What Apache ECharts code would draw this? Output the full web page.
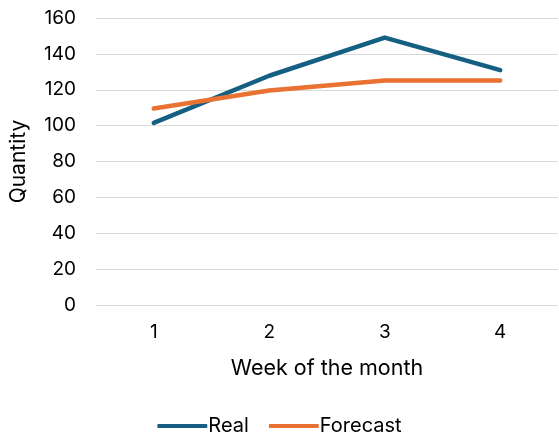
<!DOCTYPE html>
<html><head><meta charset="utf-8">
<script src="https://cdn.jsdelivr.net/npm/echarts@6/dist/echarts.min.js"></script>
<style>html,body{margin:0;padding:0;background:#fff}#c{width:559px;height:444px}</style>
</head><body><div id="c"></div>
<script>
var categories = ['1', '2', '3', '4'];
var realValues = [101.5, 127.8, 149.1, 130.9];
var forecastValues = [109.5, 119.6, 125.1, 125.1];
var seriesNames = ['Real', 'Forecast'];
var font = 'Inter, "Open Sans", sans-serif';
var chart = echarts.init(document.getElementById('c'), null, {renderer: 'canvas'});
chart.setOption({
  animation: false,
  textStyle: {fontFamily: font},
  grid: {left: 96, right: 1, top: 18, bottom: 139, containLabel: false, outerBoundsMode: 'none'},
  legend: {
    data: seriesNames, bottom: 3, left: 'center', itemWidth: 50, itemHeight: 4, itemGap: 20,
    textStyle: {fontSize: 20, color: '#000', fontFamily: font, padding: [0,0,0,-4]},
    icon: 'roundRect'
  },
  xAxis: {
    type: 'category', data: categories, boundaryGap: true,
    axisLine: {show: false}, axisTick: {show: false},
    axisLabel: {fontSize: 19, color: '#000', margin: 18, fontFamily: font},
    name: 'Week of the month', nameLocation: 'middle', nameGap: 53,
    nameTextStyle: {fontSize: 21.5, color: '#000', fontFamily: font}
  },
  yAxis: {
    type: 'value', min: 0, max: 160, interval: 20,
    axisLine: {show: false}, axisTick: {show: false},
    axisLabel: {fontSize: 19, color: '#000', margin: 20, fontFamily: font},
    splitLine: {lineStyle: {color: '#d9d9d9', width: 1}},
    name: 'Quantity', nameLocation: 'middle', nameGap: 67, nameRotate: 90,
    nameTextStyle: {fontSize: 21, color: '#000', fontFamily: font}
  },
  series: [
    {name: seriesNames[0], type: 'line', data: realValues, symbol: 'none',
     lineStyle: {color: '#156082', width: 4.5, cap: 'round', join: 'round'}, itemStyle: {color: '#156082'}},
    {name: seriesNames[1], type: 'line', data: forecastValues, symbol: 'none',
     lineStyle: {color: '#E97132', width: 4.5, cap: 'round', join: 'round'}, itemStyle: {color: '#E97132'}}
  ]
});
</script></body></html>
